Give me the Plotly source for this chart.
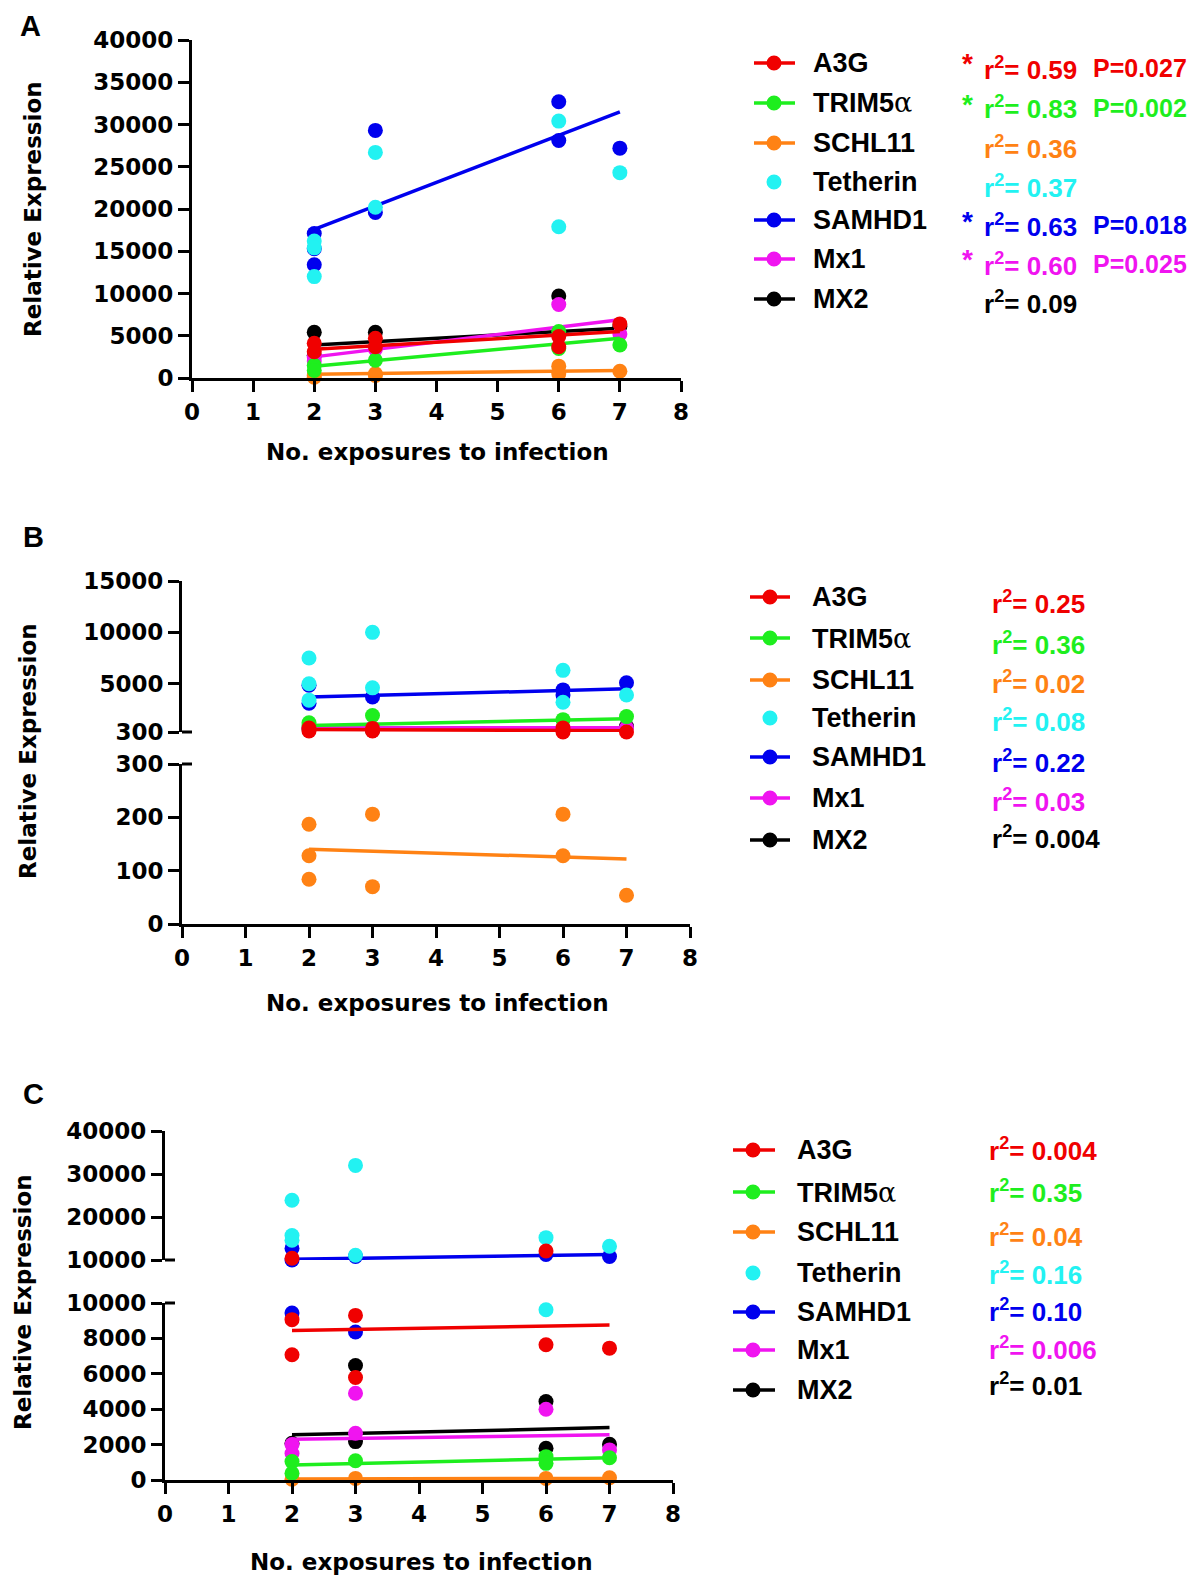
import plotly.graph_objects as go

W, H = 1200, 1577
OFFSET = 8  # page body margin

GENES = ["A3G", "TRIM5α", "SCHL11", "Tetherin", "SAMHD1", "Mx1", "MX2"]
LEGEND_LABELS = ["A3G",
                 "TRIM5<span style='font-family:DejaVu Serif;font-weight:normal'>α</span>",
                 "SCHL11", "Tetherin", "SAMHD1", "Mx1", "MX2"]
COLORS = ["#F00000", "#1EEE1E", "#FF8214", "#22F2F2", "#0000EE", "#F014F0", "#000000"]
DRAW_ORDER = ["SAMHD1", "Tetherin", "MX2", "Mx1", "SCHL11", "TRIM5α", "A3G"]
X_TICKS = [0, 1, 2, 3, 4, 5, 6, 7, 8]
FIT_X = [2, 7]

# ---------------- Panel A ----------------
A_A3G_X = [2, 2, 3, 3, 6, 6, 7]
A_A3G_Y = [4100, 3100, 4700, 3700, 4900, 3700, 6400]
A_TRIM_X = [2, 2, 3, 6, 6, 7]
A_TRIM_Y = [1500, 900, 2100, 5500, 3500, 3900]
A_SCHL_X = [2, 2, 3, 3, 6, 6, 7]
A_SCHL_Y = [300, 100, 500, 300, 1400, 500, 800]
A_TETH_X = [2, 2, 2, 3, 3, 6, 6, 7]
A_TETH_Y = [16200, 15400, 12000, 26700, 20200, 30400, 17900, 24300]
A_SAM_X = [2, 2, 2, 3, 3, 6, 6, 7]
A_SAM_Y = [17100, 15300, 13400, 29300, 19600, 32700, 28100, 27200]
A_MX1_X = [2, 2, 3, 6, 7]
A_MX1_Y = [2500, 2000, 3400, 8700, 5200]
A_MX2_X = [2, 2, 3, 6, 7]
A_MX2_Y = [5400, 2700, 5400, 9700, 6100]
A_FIT_START = [3400, 1400, 440, None, 17600, 2500, 3900]
A_FIT_END = [5500, 4700, 900, None, 31500, 6900, 5900]
A_R2 = ["0.59", "0.83", "0.36", "0.37", "0.63", "0.60", "0.09"]
A_P = ["0.027", "0.002", None, None, "0.018", "0.025", None]
A_Y_TICKS = [0, 5000, 10000, 15000, 20000, 25000, 30000, 35000, 40000]

# ---------------- Panel B ----------------
B_A3G_X = [2, 2, 3, 3, 6, 6, 7]
B_A3G_Y = [680, 400, 650, 400, 700, 300, 300]
B_TRIM_X = [2, 2, 3, 6, 7]
B_TRIM_Y = [1200, 900, 1900, 1500, 1800]
B_SCHL_X = [2, 2, 2, 3, 3, 6, 6, 7]
B_SCHL_Y = [187, 128, 84, 206, 70, 206, 128, 54]
B_TETH_X = [2, 2, 2, 3, 3, 6, 6, 7]
B_TETH_Y = [7500, 5000, 3400, 10000, 4600, 6300, 3200, 3900]
B_SAM_X = [2, 2, 3, 6, 6, 7]
B_SAM_Y = [4850, 3100, 3700, 4400, 3900, 5100]
B_MX1_X = [2, 3, 6, 7]
B_MX1_Y = [700, 700, 700, 700]
B_MX2_X = [2, 3, 6, 7]
B_MX2_Y = [600, 450, 500, 840]
B_FIT_START = [550, 940, 140, None, 3700, 700, 650]
B_FIT_END = [420, 1580, 122, None, 4500, 720, 720]
B_R2 = ["0.25", "0.36", "0.02", "0.08", "0.22", "0.03", "0.004"]
B_TOP_TICKS = [300, 5000, 10000, 15000]
B_BOT_TICKS = [0, 100, 200, 300]

# ---------------- Panel C ----------------
C_A3G_X = [2, 2, 2, 3, 3, 6, 6, 7]
C_A3G_Y = [10400, 9060, 7080, 9300, 5790, 12100, 7640, 7450]
C_TRIM_X = [2, 2, 3, 6, 6, 7]
C_TRIM_Y = [1040, 380, 1090, 1320, 940, 1260]
C_SCHL_X = [2, 3, 6, 7]
C_SCHL_Y = [40, 90, 90, 130]
C_TETH_X = [2, 2, 2, 3, 3, 6, 6, 7]
C_TETH_Y = [23900, 15700, 14600, 32000, 11100, 15200, 9620, 13200]
C_SAM_X = [2, 2, 2, 3, 3, 6, 7]
C_SAM_Y = [12700, 10000, 9430, 10800, 8360, 11300, 10800]
C_MX1_X = [2, 2, 3, 3, 6, 7]
C_MX1_Y = [2000, 1500, 4900, 2640, 4000, 1700]
C_MX2_X = [2, 3, 3, 6, 6, 7]
C_MX2_Y = [2080, 6470, 2170, 4430, 1790, 2020]
C_FIT_START = [8450, 850, 60, None, 10150, 2300, 2550]
C_FIT_END = [8760, 1260, 90, None, 11300, 2550, 2960]
C_R2 = ["0.004", "0.35", "0.04", "0.16", "0.10", "0.006", "0.01"]
C_TOP_TICKS = [10000, 20000, 30000, 40000]
C_BOT_TICKS = [0, 2000, 4000, 6000, 8000, 10000]


def px(x):
    return (x - OFFSET) / W


def py(y):
    return 1 - (y - OFFSET) / H


AXFONT = "DejaVu Sans, sans-serif"
FONT = "Liberation Sans, Arial, sans-serif"

panels = [
    dict(
        data=[(A_A3G_X, A_A3G_Y), (A_TRIM_X, A_TRIM_Y), (A_SCHL_X, A_SCHL_Y), (A_TETH_X, A_TETH_Y),
              (A_SAM_X, A_SAM_Y), (A_MX1_X, A_MX1_Y), (A_MX2_X, A_MX2_Y)],
        fs=A_FIT_START, fe=A_FIT_END, x="x", segs=[("y", 0)]),
    dict(
        data=[(B_A3G_X, B_A3G_Y), (B_TRIM_X, B_TRIM_Y), (B_SCHL_X, B_SCHL_Y), (B_TETH_X, B_TETH_Y),
              (B_SAM_X, B_SAM_Y), (B_MX1_X, B_MX1_Y), (B_MX2_X, B_MX2_Y)],
        fs=B_FIT_START, fe=B_FIT_END, x="x2", segs=[("y2", 300), ("y3", 0)]),
    dict(
        data=[(C_A3G_X, C_A3G_Y), (C_TRIM_X, C_TRIM_Y), (C_SCHL_X, C_SCHL_Y), (C_TETH_X, C_TETH_Y),
              (C_SAM_X, C_SAM_Y), (C_MX1_X, C_MX1_Y), (C_MX2_X, C_MX2_Y)],
        fs=C_FIT_START, fe=C_FIT_END, x="x3", segs=[("y4", 10000), ("y5", 0)]),
]


def seg_for(v, segs):
    for name, lo in segs:
        if v >= lo:
            return name
    return segs[-1][0]


fig = go.Figure()
for p in panels:
    for gname in DRAW_ORDER:
        gi = GENES.index(gname)
        col = COLORS[gi]
        xs, ys = p["data"][gi]
        if p["fs"][gi] is not None:
            yref = seg_for(p["fs"][gi], p["segs"])
            fig.add_trace(go.Scatter(x=FIT_X, y=[p["fs"][gi], p["fe"][gi]], mode="lines",
                                     line=dict(color=col, width=3.5), xaxis=p["x"], yaxis=yref,
                                     showlegend=False, cliponaxis=False, hoverinfo="skip"))
        for name, lo in p["segs"]:
            sx = [x for x, y in zip(xs, ys) if seg_for(y, p["segs"]) == name]
            sy = [y for x, y in zip(xs, ys) if seg_for(y, p["segs"]) == name]
            if sx:
                fig.add_trace(go.Scatter(x=sx, y=sy, mode="markers",
                                         marker=dict(color=col, size=15, line=dict(width=0)),
                                         xaxis=p["x"], yaxis=name, showlegend=False, cliponaxis=False))

axis_common = dict(showline=True, linecolor="black", linewidth=3, ticks="outside", ticklen=11,
                   tickwidth=3, tickcolor="black", showgrid=False, zeroline=False, automargin=False,
                   tickfont=dict(family=AXFONT, size=23, color="black", weight="bold"),
                   tickformat="d", fixedrange=True)

layout = dict(
    width=W, height=H, margin=dict(l=0, r=0, t=0, b=0, autoexpand=False),
    paper_bgcolor="white", plot_bgcolor="white", showlegend=False,
    xaxis=dict(domain=[px(192), px(681)], range=[0, 8], tickvals=X_TICKS, anchor="y", **axis_common),
    yaxis=dict(domain=[py(378), py(40)], range=[0, 40000], tickvals=A_Y_TICKS, anchor="x", **axis_common),
    xaxis2=dict(domain=[px(182), px(690)], range=[0, 8], tickvals=X_TICKS, anchor="y3", **axis_common),
    yaxis2=dict(domain=[py(732), py(581)], range=[300, 15000], tickvals=B_TOP_TICKS, anchor="x2", **axis_common),
    yaxis3=dict(domain=[py(924), py(764)], range=[0, 300], tickvals=B_BOT_TICKS, anchor="x2", **axis_common),
    xaxis3=dict(domain=[px(165), px(673)], range=[0, 8], tickvals=X_TICKS, anchor="y5", **axis_common),
    yaxis4=dict(domain=[py(1260), py(1131)], range=[10000, 40000], tickvals=C_TOP_TICKS, anchor="x3", **axis_common),
    yaxis5=dict(domain=[py(1480), py(1303)], range=[0, 10000], tickvals=C_BOT_TICKS, anchor="x3", **axis_common),
)
fig.update_layout(**layout)

shapes = []
annotations = []

for ax_x, ys_ in [(182, [732, 764]), (165, [1260, 1303])]:
    for yy in ys_:
        shapes.append(dict(type="line", xref="paper", yref="paper", x0=px(ax_x), x1=px(ax_x + 10),
                           y0=py(yy), y1=py(yy), line=dict(color="black", width=3)))


def text(x, y, s, size=26, color="black", xanchor="left", angle=0, family=FONT, yanchor="middle"):
    annotations.append(dict(x=px(x), y=py(y), xref="paper", yref="paper", text=s, showarrow=False,
                            xanchor=xanchor, yanchor=yanchor, textangle=angle,
                            font=dict(family=family, size=size, color=color, weight="bold")))


text(30, 8, "A", size=29, xanchor="center", yanchor="top")
text(33, 537, "B", size=29, xanchor="center")
text(33, 1094, "C", size=29, xanchor="center")
text(33, 209, "Relative Expression", size=23, xanchor="center", angle=-90, family=AXFONT)
text(28, 751, "Relative Expression", size=23, xanchor="center", angle=-90, family=AXFONT)
text(8, 1302, "Relative Expression", size=23, xanchor="left", angle=-90, family=AXFONT)
for (tx, ty) in [(437, 452), (437, 1003), (421, 1562)]:
    text(tx, ty, "No. exposures to infection", size=23, xanchor="center", family=AXFONT)

legend_specs = [
    dict(lx0=754, lx1=795, mx=774, tx=811, rows=[63, 103, 143, 182, 220, 259, 299],
         sx=982, srows=[68, 108, 148, 187, 225, 264, 303], r2=A_R2, p=A_P),
    dict(lx0=750, lx1=790, mx=770, tx=810, rows=[597, 638, 680, 718, 757, 798, 840],
         sx=990, srows=[602, 643, 683, 720, 761, 800, 837], r2=B_R2, p=[None] * 7),
    dict(lx0=733, lx1=775, mx=753, tx=795, rows=[1150, 1192, 1232, 1273, 1312, 1350, 1390],
         sx=987, srows=[1149, 1191, 1235, 1273, 1310, 1348, 1384], r2=C_R2, p=[None] * 7),
]
for L in legend_specs:
    for gi, g in enumerate(GENES):
        col = COLORS[gi]
        y = L["rows"][gi]
        if g != "Tetherin":
            shapes.append(dict(type="line", xref="paper", yref="paper", x0=px(L["lx0"]), x1=px(L["lx1"]),
                               y0=py(y), y1=py(y), line=dict(color=col, width=3.5)))
        shapes.append(dict(type="circle", xref="paper", yref="paper", xsizemode="pixel", ysizemode="pixel",
                           xanchor=px(L["mx"]), yanchor=py(y), x0=-7.5, x1=7.5, y0=-7.5, y1=7.5,
                           fillcolor=col, line=dict(width=0)))
        text(L["tx"], y, LEGEND_LABELS[gi], size=27)
        sy = L["srows"][gi]
        text(L["sx"], sy, "r<sup>2</sup>= " + L["r2"][gi], size=26, color=col)
        if L["p"][gi] is not None:
            text(1091, sy, "P=" + L["p"][gi], size=25, color=col)
            text(967, sy - 4, "*", size=28, color=col, xanchor="center")

fig.update_layout(shapes=shapes, annotations=annotations)
fig.write_html("out.html")
